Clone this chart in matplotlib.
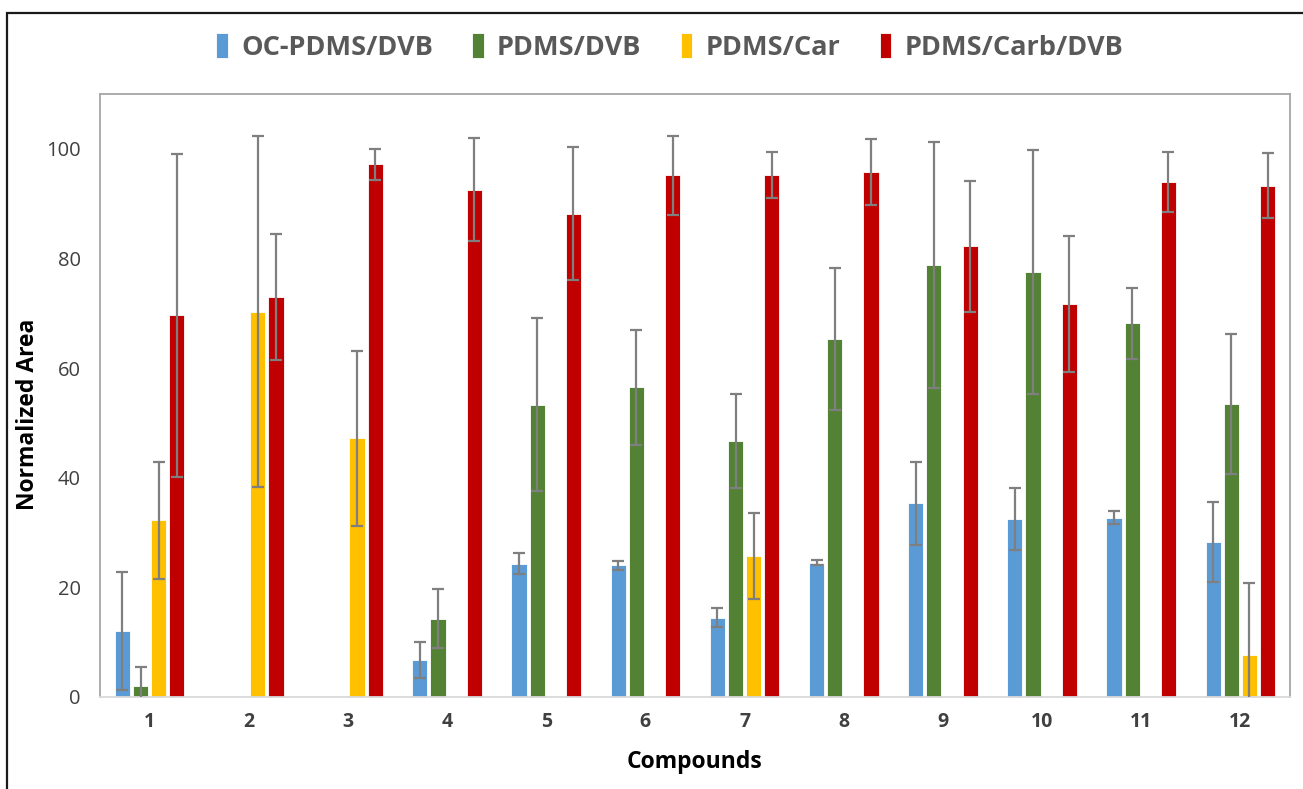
import numpy as np
import matplotlib
matplotlib.use("Agg")
import matplotlib.pyplot as plt
from matplotlib.patches import Rectangle

plt.rcParams['font.family'] = ['Open Sans', 'DejaVu Sans']

compounds = ['1', '2', '3', '4', '5', '6', '7', '8', '9', '10', '11', '12']
series_names = ['OC-PDMS/DVB', 'PDMS/DVB', 'PDMS/Car', 'PDMS/Carb/DVB']
colors = ['#5b9bd5', '#548235', '#ffc000', '#c00000']

oc_pdms_dvb = [12.0, np.nan, np.nan, 6.8, 24.3, 24.0, 14.5, 24.5, 35.3, 32.5, 32.7, 28.2]
oc_pdms_dvb_err = [10.8, 0, 0, 3.3, 1.9, 0.9, 1.8, 0.5, 7.6, 5.7, 1.2, 7.3]
pdms_dvb = [2.0, np.nan, np.nan, 14.3, 53.3, 56.5, 46.7, 65.3, 78.8, 77.5, 68.2, 53.5]
pdms_dvb_err = [3.5, 0, 0, 5.4, 15.8, 10.5, 8.5, 13.0, 22.4, 22.2, 6.5, 12.8]
pdms_car = [32.2, 70.3, 47.2, np.nan, np.nan, np.nan, 25.7, np.nan, np.nan, np.nan, np.nan, 7.7]
pdms_car_err = [10.7, 32.0, 16.0, 0, 0, 0, 7.9, 0, 0, 0, 0, 13.1]
pdms_carb_dvb = [69.6, 73.0, 97.2, 92.5, 88.2, 95.2, 95.2, 95.7, 82.2, 71.7, 94.0, 93.3]
pdms_carb_dvb_err = [29.5, 11.5, 2.8, 9.4, 12.1, 7.2, 4.2, 6.0, 12.0, 12.4, 5.5, 5.9]

values = [oc_pdms_dvb, pdms_dvb, pdms_car, pdms_carb_dvb]
errors = [oc_pdms_dvb_err, pdms_dvb_err, pdms_car_err, pdms_carb_dvb_err]

W, H = 1303, 789
fig = plt.figure(figsize=(W / 100, H / 100), dpi=100)
fig.patch.set_facecolor('white')

# outer chart border
fig.add_artist(Rectangle((7 / W, -0.05), 1.1, 1 - 12.5 / H + 0.05, transform=fig.transFigure,
                         fill=False, edgecolor='#1a1a1a', linewidth=1.6))

ax = fig.add_axes([100 / W, 1 - 697 / H, (1290 - 100) / W, (697 - 94) / H])
x = np.arange(1, len(compounds) + 1)
offsets = [-1.5, -0.5, 0.5, 1.5]
spacing = 0.183
bw = 0.152

handles = []
for i in range(4):
    v = np.array(values[i], dtype=float)
    e = np.array(errors[i], dtype=float)
    pos = x + offsets[i] * spacing
    b = ax.bar(pos, v, width=bw, color=colors[i], edgecolor='white', linewidth=0.6,
               label=series_names[i], zorder=2)
    handles.append(b)
    mask = ~np.isnan(v)
    ax.errorbar(pos[mask], v[mask], yerr=e[mask], fmt='none', ecolor='#7f7f7f',
                elinewidth=1.6, capsize=4.5, capthick=1.6, zorder=3)

ax.set_xlim(0.5, 12.5)
ax.set_ylim(0, 110)
ax.set_yticks([0, 20, 40, 60, 80, 100])
ax.set_xticks(x)
ax.set_xticklabels(compounds, fontweight='bold')
ax.tick_params(axis='x', length=0, pad=11, labelsize=14, colors='#404040')
ax.tick_params(axis='y', length=0, pad=14, labelsize=14.5, colors='#404040')
for side in ['top', 'right', 'left']:
    ax.spines[side].set_color('#a6a6a6')
    ax.spines[side].set_linewidth(1.3)
ax.spines['bottom'].set_color('#d9d9d9')
ax.spines['bottom'].set_linewidth(1.3)

ax.set_xlabel('Compounds', fontsize=16.5, fontweight='bold', color='black', labelpad=13)
ax.set_ylabel('Normalized Area', fontsize=16.5, fontweight='bold', color='black')
ax.yaxis.set_label_coords(-0.05, 0.468)

leg = fig.legend(handles=handles, labels=series_names, loc='center', bbox_to_anchor=(0.514, 1 - 47 / H),
                 ncol=4, frameon=False, handlelength=0.42, handleheight=1.05, handletextpad=0.5,
                 columnspacing=1.45, prop={'weight': 'bold', 'size': 19.5})
for t in leg.get_texts():
    t.set_color('#595959')

fig.savefig('out.png', dpi=100, facecolor='white')
